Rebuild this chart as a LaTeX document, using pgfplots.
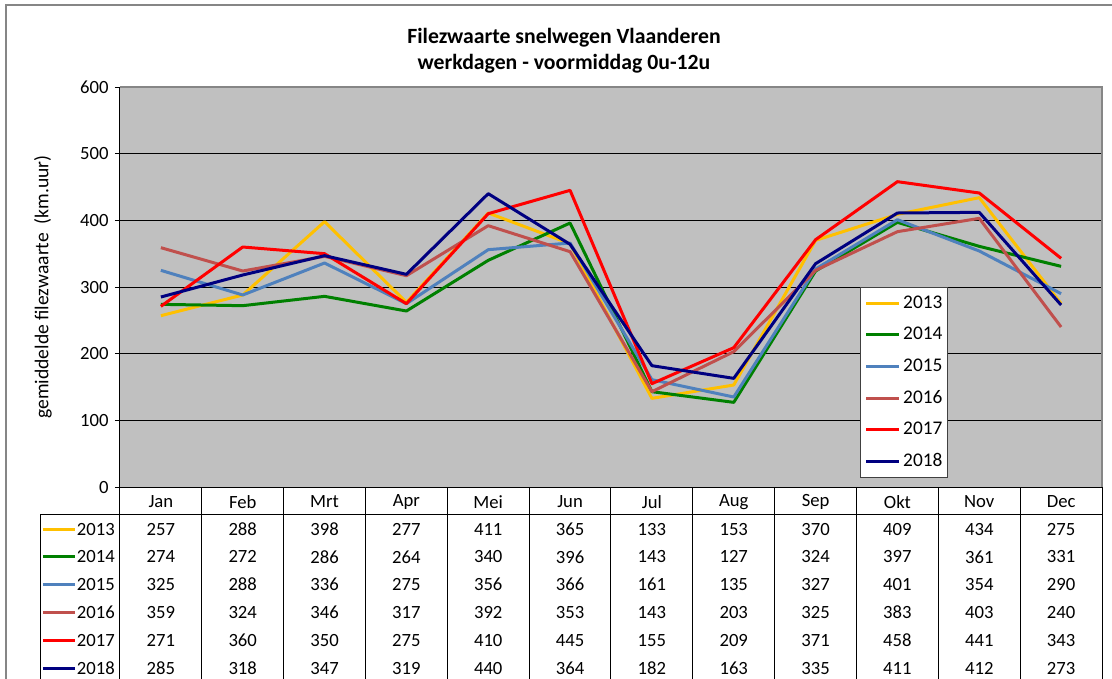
\documentclass[border=0pt]{standalone}
\usepackage{pgfplots}
\pgfplotsset{compat=1.18}
\usepackage{pgfplotstable}
\usepackage{fontspec}
\setmainfont{Carlito}
\definecolor{c2013}{HTML}{FFC000}
\definecolor{c2014}{HTML}{008000}
\definecolor{c2015}{HTML}{4F81BD}
\definecolor{c2016}{HTML}{C0504D}
\definecolor{c2017}{HTML}{FF0000}
\definecolor{c2018}{HTML}{000080}
\definecolor{plotbg}{HTML}{C0C0C0}
\definecolor{framegray}{HTML}{868686}
\pgfplotstableread{
m y2013 y2014 y2015 y2016 y2017 y2018
0 257 274 325 359 271 285
1 288 272 288 324 360 318
2 398 286 336 346 350 347
3 277 264 275 317 275 319
4 411 340 356 392 410 440
5 365 396 366 353 445 364
6 133 143 161 143 155 182
7 153 127 135 203 209 163
8 370 324 327 325 371 335
9 409 397 401 383 458 411
10 434 361 354 403 441 412
11 275 331 290 240 343 273
}\datatable
\begin{document}
\fontsize{14}{17}\selectfont
\begin{tikzpicture}
\begin{axis}[
  scale only axis, width=736.5pt, height=300pt,
  xmin=-0.5, xmax=11.5, ymin=0, ymax=600,
  clip=false,
  axis lines*=left,
  axis line style={black, line width=0.75pt},
  axis background/.style={fill=plotbg},
  xtick={0,...,11},
  xticklabels={Jan,Feb,Mrt,Apr,Mei,Jun,Jul,Aug,Sep,Okt,Nov,Dec},
  x tick style={draw=none},
  x tick label style={anchor=center, yshift=-7.5pt, font=\fontsize{14}{17}\selectfont},
  ytick={0,100,...,600},
  y tick style={black, line width=0.75pt},
  tick align=outside, major tick length=3.75pt,
  y tick label style={font=\fontsize{14}{17}\selectfont, /pgf/number format/assume math mode=true},
  ymajorgrids, grid style={black, line width=0.6pt},
  legend style={at={(rel axis cs:0.7536,0.5)}, anchor=north west, draw=black!75, line width=0.75pt, fill=white,
    inner xsep=3pt, inner ysep=0pt, row sep=0pt, column sep=1pt,
    font=\fontsize{14.5}{17}\selectfont,
    nodes={inner sep=1pt, minimum height=23.7pt}},
  legend cell align=left,
  legend image code/.code={\draw[#1] (0pt,0pt) -- (24.75pt,0pt);},
  every axis plot/.append style={line width=2.25pt, line join=round, no markers},
]
\addplot[c2013] table[x=m,y=y2013]{\datatable};
\addplot[c2014] table[x=m,y=y2014]{\datatable};
\addplot[c2015] table[x=m,y=y2015]{\datatable};
\addplot[c2016] table[x=m,y=y2016]{\datatable};
\addplot[c2017] table[x=m,y=y2017]{\datatable};
\addplot[c2018] table[x=m,y=y2018]{\datatable};
\legend{2013,2014,2015,2016,2017,2018}
% plot area border (top, right)
\draw[framegray, line width=1.2pt] (axis cs:-0.5,600) -- (axis cs:11.5,600) -- (axis cs:11.5,0);
% data table grid
\draw[black, line width=0.75pt] (axis cs:-1.465,-41) -- (axis cs:11.5,-41);
\draw[black, line width=0.75pt] (axis cs:-1.465,-41) -- (axis cs:-1.465,-320);
\pgfplotsforeachungrouped \k in {0,...,12}{%
  \pgfmathsetmacro\xx{\k-0.5}%
  \edef\tmp{\noexpand\draw[black, line width=0.75pt] (axis cs:\xx,0) -- (axis cs:\xx,-320);}%
  \tmp
}
% data table values
\pgfplotsforeachungrouped \c in {2013,2014,2015,2016,2017,2018}{%
  \pgfmathsetmacro\ry{-63-41.7*(\c-2013)}%
  \pgfplotsforeachungrouped \i in {0,...,11}{%
    \pgfplotstablegetelem{\i}{y\c}\of\datatable
    \edef\tmp{\noexpand\node[anchor=center, inner sep=0pt] at (axis cs:\i,\ry) {\pgfplotsretval};}%
    \tmp
  }%
  \edef\tmp{\noexpand\draw[line width=2.25pt, c\c] (axis cs:-1.441,\ry) -- (axis cs:-1.05,\ry);
    \noexpand\node[anchor=west, inner sep=0pt] at (axis cs:-1.03,\ry) {\c};}%
  \tmp
}
% title and y label
\node[align=center, font=\bfseries\fontsize{16.3}{19.5}\selectfont] at (axis cs:4.926,655) {Filezwaarte snelwegen Vlaanderen\\werkdagen - voormiddag 0u-12u};
\node[rotate=90, font=\fontsize{14.7}{17}\selectfont] at (axis cs:-1.441,300) {gemiddelde filezwaarte\ \ (km.uur)};
% outer frame
\draw[framegray, line width=1.2pt] (axis cs:-1.893,-400) -- (axis cs:-1.893,723) -- (axis cs:12,723);
\coordinate (bl) at (axis cs:-1.966,-286.5);
\coordinate (tr) at (axis cs:11.622,730.5);
\end{axis}
\pgfresetboundingbox
\useasboundingbox (bl) rectangle (tr);
\end{tikzpicture}
\end{document}
